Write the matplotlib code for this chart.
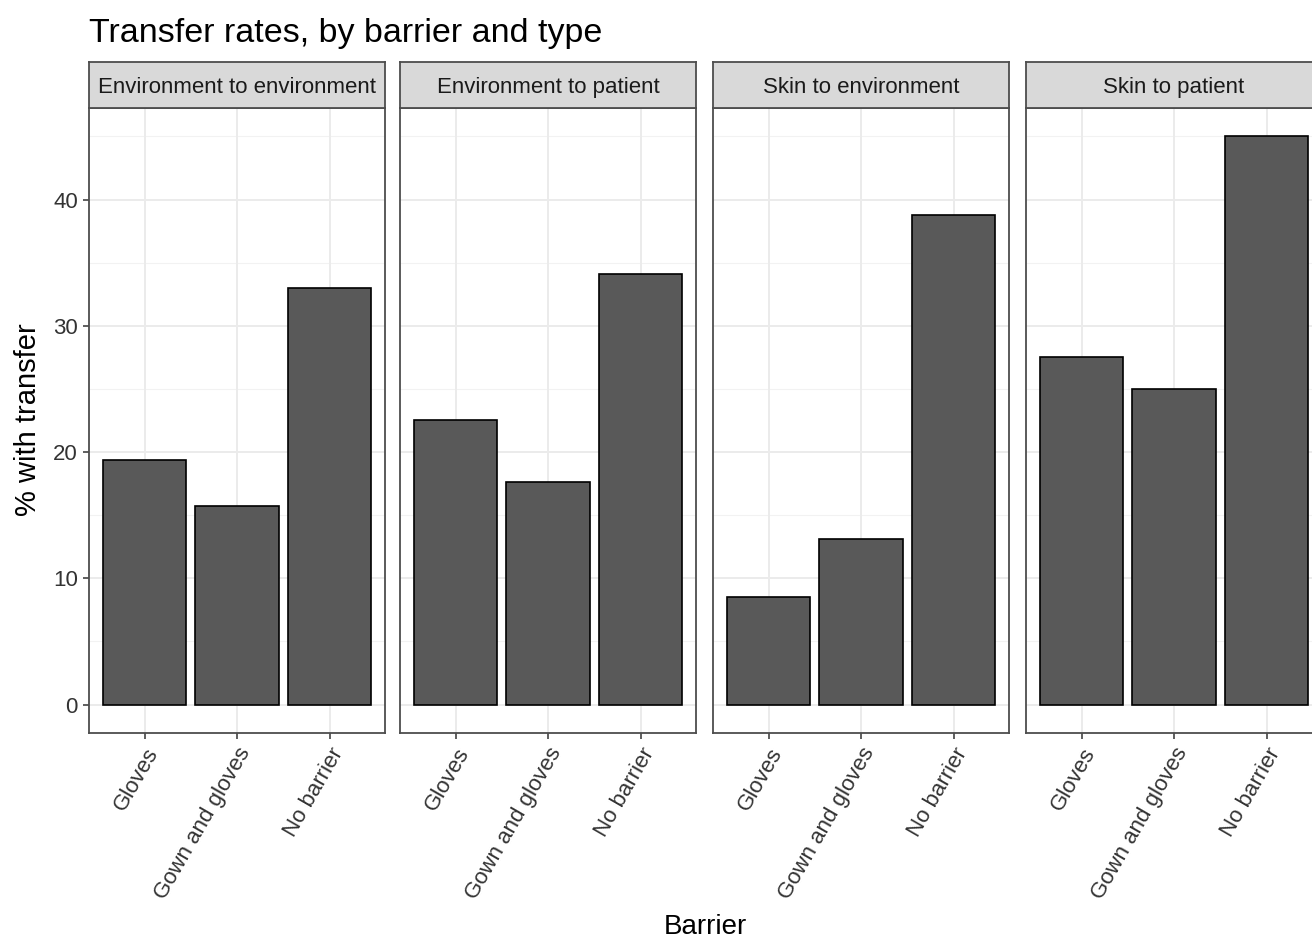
import matplotlib.pyplot as plt
import numpy as np

plt.rcParams['font.family'] = ['Liberation Sans', 'DejaVu Sans']

# facets and categories
panels = ["Environment to environment", "Environment to patient",
          "Skin to environment", "Skin to patient"]
barriers = ["Gloves", "Gown and gloves", "No barrier"]

# % with transfer, one list per facet
env_to_env = [19.4, 15.7, 33.0]
env_to_patient = [22.5, 17.6, 34.1]
skin_to_env = [8.5, 13.1, 38.8]
skin_to_patient = [27.5, 25.0, 45.0]
values = [env_to_env, env_to_patient, skin_to_env, skin_to_patient]

W, H = 1312, 938
fig = plt.figure(figsize=(W / 100, H / 100), dpi=100)
fig.patch.set_facecolor('white')

lefts = [89, 400, 713, 1026]
pw = 296
top, bottom = 108, 733
strip_h = 46

ymax = max(max(v) for v in values)
ylo, yhi = -0.05 * ymax, 1.05 * ymax
x = np.arange(len(barriers))

for i, (name, vals) in enumerate(zip(panels, values)):
    ax = fig.add_axes([lefts[i] / W, 1 - bottom / H, pw / W, (bottom - top) / H])
    ax.set_xlim(-0.6, len(barriers) - 0.4)
    ax.set_ylim(ylo, yhi)
    ax.set_axisbelow(True)
    # grid
    for yv in [5, 15, 25, 35, 45]:
        ax.axhline(yv, color='#F2F2F2', lw=0.8, zorder=0)
    for yv in [0, 10, 20, 30, 40]:
        ax.axhline(yv, color='#EBEBEB', lw=1.4, zorder=0)
    for xv in x:
        ax.axvline(xv, color='#EBEBEB', lw=1.4, zorder=0)
    ax.bar(x, vals, width=0.9, color='#595959', edgecolor='black', lw=1.2, zorder=2)
    for s in ax.spines.values():
        s.set_color('#4D4D4D')
        s.set_linewidth(1.3)
    ax.set_xticks(x)
    ax.set_xticklabels(barriers, rotation=60, ha='right', va='top',
                       rotation_mode='anchor', fontsize=16, color='#333333')
    ax.tick_params(axis='x', length=4, width=1.1, color='#333333', pad=4)
    ax.set_yticks([0, 10, 20, 30, 40])
    if i == 0:
        ax.set_yticklabels(['0', '10', '20', '30', '40'], fontsize=16, color='#333333')
        ax.tick_params(axis='y', length=4, width=1.1, color='#333333', pad=4)
    else:
        ax.tick_params(axis='y', length=0, labelleft=False)

    sax = fig.add_axes([lefts[i] / W, 1 - top / H, pw / W, strip_h / H])
    sax.set_facecolor('#D9D9D9')
    sax.set_xticks([])
    sax.set_yticks([])
    for s in sax.spines.values():
        s.set_color('#4D4D4D')
        s.set_linewidth(1.3)
    sax.text(0.5, 0.44, name, ha='center', va='center', fontsize=16,
             color='#1A1A1A', transform=sax.transAxes)

fig.text(89 / W, 1 - 42 / H, 'Transfer rates, by barrier and type',
         fontsize=24.5, ha='left', va='baseline')
fig.text(28 / W, 1 - 420 / H, '% with transfer', fontsize=21,
         rotation=90, ha='center', va='center')
fig.text(705 / W, 1 - 927 / H, 'Barrier', fontsize=20, ha='center', va='center')

fig.savefig('out.png', dpi=100)
